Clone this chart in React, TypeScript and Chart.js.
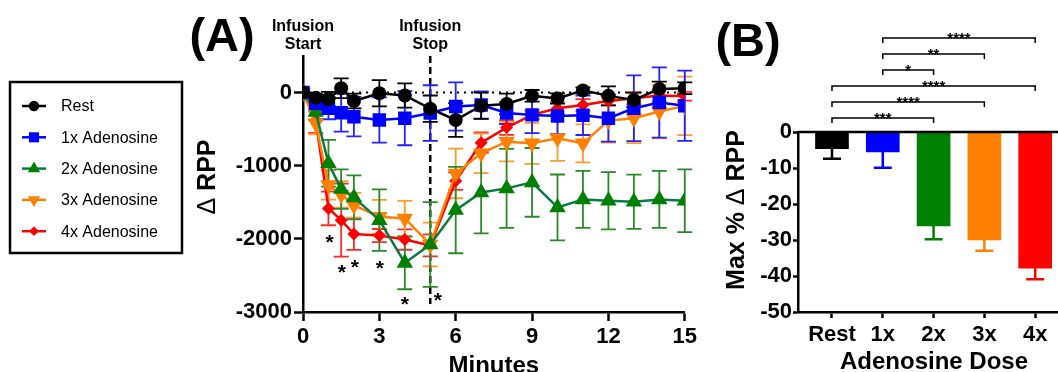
import React, { useEffect, useRef } from 'react';
import { Chart, registerables } from 'chart.js';
Chart.register(...registerables);

const FONT = '"Liberation Sans", Arial, sans-serif';

// ---------- Panel A data ----------
const minutes = [0, 0.5, 1, 1.5, 2, 3, 4, 5, 6, 7, 8, 9, 10, 11, 12, 13, 14, 15];
const restMean = [0, -70, -90, 60, -115, -10, -40, -220, -375, -180, -155, -45, -80, 30, -45, -100, 50, 60];
const restErr = [0, 50, 100, 135, 100, 180, 165, 180, 230, 180, 140, 80, 70, 40, 130, 100, 100, 80];
const ad1Mean = [0, -145, -215, -275, -330, -375, -350, -280, -190, -170, -280, -305, -320, -310, -350, -215, -135, -180];
const ad1Err = [0, 100, 150, 260, 270, 310, 370, 380, 330, 185, 150, 250, 250, 270, 320, 450, 480, 480];
const ad2Mean = [0, -265, -967, -1320, -1433, -1744, -2329, -2077, -1607, -1365, -1310, -1228, -1570, -1461, -1479, -1493, -1461, -1479];
const ad2Err = [0, 110, 320, 270, 300, 420, 360, 580, 590, 560, 540, 470, 450, 390, 390, 370, 390, 430];
const ad3Mean = [0, -420, -1264, -1392, -1540, -1698, -1721, -2077, -1105, -831, -671, -694, -625, -694, -383, -352, -260, -182];
const ad3Err = [0, 150, 200, 180, 170, 230, 240, 300, 340, 270, 270, 280, 310, 260, 300, 340, 365, 400];
const ad4Mean = [0, -380, -1584, -1744, -1935, -1955, -2009, -2090, -1210, -685, -479, -305, -214, -169, -114, -77, -40, -50];
const ad4Err = [0, 170, 230, 500, 215, 90, 140, 150, 120, 140, 100, 60, 80, 80, 60, 80, 80, 60];
const seriesLabels = ['Rest', '1x Adenosine', '2x Adenosine', '3x Adenosine', '4x Adenosine'];
const xTicksA = [0, 3, 6, 9, 12, 15];
const yTicksA = [-3000, -2000, -1000, 0];
const infusionStartMin = 0;
const infusionStopMin = 5;
const starX = [1.04, 1.53, 2.04, 3.02, 4.0, 5.3];
const starY = [-1977, -2384, -2315, -2329, -2816, -2771];

// ---------- Panel B data ----------
const doseLabels = ['Rest', '1x', '2x', '3x', '4x'];
const maxPct = [-4.6, -5.5, -26.1, -30, -37.8];
const maxPctErr = [2.8, 4.4, 3.7, 3.0, 3.1];
const yTicksB = [-50, -40, -30, -20, -10, 0];
const sigFrom = [0, 0, 0, 1, 1, 1];
const sigTo = [2, 3, 4, 2, 3, 4];
const sigText = ['***', '****', '****', '*', '**', '****'];

const styles = [
  { color: '#000000', line: '#000000', err: '#000000', shape: 'circle', r: 7, rot: 0 },
  { color: '#0000FF', line: '#0000FF', err: '#2323ff', shape: 'rect', r: 9.5, rot: 0 },
  { color: '#008000', line: '#0a7a45', err: '#2a8a2a', shape: 'triangle', r: 9.5, rot: 0 },
  { color: '#FF8000', line: '#FF8000', err: '#ff9a33', shape: 'triangle', r: 9.5, rot: 180 },
  { color: '#FF0000', line: '#FF0000', err: '#ff2a2a', shape: 'rectRot', r: 6.5, rot: 0 },
];
const meansA = [restMean, ad1Mean, ad2Mean, ad3Mean, ad4Mean];
const errsA = [restErr, ad1Err, ad2Err, ad3Err, ad4Err];
const barColors = ['#000000', '#0000FF', '#008000', '#FF8000', '#FF0000'];

function drawMarker(ctx: CanvasRenderingContext2D, shape: string, x: number, y: number, r: number, rot: number, color: string) {
  ctx.save();
  ctx.fillStyle = color;
  ctx.translate(x, y);
  ctx.rotate((rot * Math.PI) / 180);
  ctx.beginPath();
  if (shape === 'circle') {
    ctx.arc(0, 0, r, 0, Math.PI * 2);
  } else if (shape === 'rect') {
    const s = r * Math.SQRT1_2;
    ctx.rect(-s, -s, 2 * s, 2 * s);
  } else if (shape === 'triangle') {
    ctx.moveTo(0, -r);
    ctx.lineTo(r * 0.866, r * 0.5);
    ctx.lineTo(-r * 0.866, r * 0.5);
    ctx.closePath();
  } else if (shape === 'rectRot') {
    ctx.moveTo(0, -r);
    ctx.lineTo(r, 0);
    ctx.lineTo(0, r);
    ctx.lineTo(-r, 0);
    ctx.closePath();
  }
  ctx.fill();
  ctx.restore();
}

// Rotated y-axis title with a regular-weight delta sign among bold words
function drawYTitle(ctx: CanvasRenderingContext2D, parts: string[], cx: number, cy: number, size: number) {
  ctx.save();
  ctx.translate(cx, cy);
  ctx.rotate(-Math.PI / 2);
  ctx.textBaseline = 'middle';
  ctx.textAlign = 'left';
  const fonts = parts.map((p) => (p === '\u0394' ? `${size}px ${FONT}` : `bold ${size}px ${FONT}`));
  const widths = parts.map((p, i) => { ctx.font = fonts[i]; return ctx.measureText(p).width; });
  const total = widths.reduce((a, b) => a + b, 0);
  let x = -total / 2;
  parts.forEach((p, i) => {
    ctx.font = fonts[i];
    ctx.fillText(p, x, 0);
    x += widths[i];
  });
  ctx.restore();
}

const panelAPlugin = {
  id: 'panelA',
  beforeDatasetsDraw(chart: any) {
    const { ctx, chartArea, scales } = chart;
    const xs = scales.x;
    const ys = scales.y;
    ctx.save();
    ctx.strokeStyle = '#000';
    ctx.lineWidth = 2;
    ctx.setLineDash([2, 5]);
    ctx.beginPath();
    ctx.moveTo(chartArea.left, ys.getPixelForValue(0));
    ctx.lineTo(chartArea.right, ys.getPixelForValue(0));
    ctx.stroke();
    ctx.setLineDash([7, 4]);
    ctx.lineWidth = 2.5;
    ctx.beginPath();
    const sx = xs.getPixelForValue(infusionStopMin);
    ctx.moveTo(sx, chartArea.top);
    ctx.lineTo(sx, chartArea.bottom - 8);
    ctx.stroke();
    ctx.setLineDash([]);
    for (let s = meansA.length - 1; s >= 0; s--) {
      ctx.strokeStyle = styles[s].err;
      ctx.lineWidth = 1.8;
      minutes.forEach((m, i) => {
        const e = errsA[s][i];
        if (!e) return;
        const px = xs.getPixelForValue(m);
        const top = ys.getPixelForValue(meansA[s][i] + e);
        const bot = ys.getPixelForValue(meansA[s][i] - e);
        ctx.beginPath();
        ctx.moveTo(px, top);
        ctx.lineTo(px, bot);
        ctx.moveTo(px - 7.5, top);
        ctx.lineTo(px + 7.5, top);
        ctx.moveTo(px - 7.5, bot);
        ctx.lineTo(px + 7.5, bot);
        ctx.stroke();
      });
    }
    ctx.restore();
  },
  afterDraw(chart: any) {
    const { ctx, chartArea, scales } = chart;
    const xs = scales.x;
    const ys = scales.y;
    ctx.save();
    ctx.fillStyle = '#000';
    ctx.font = `bold 47px ${FONT}`;
    ctx.textAlign = 'center';
    ctx.textBaseline = 'alphabetic';
    ctx.fillText('(A)', 222, 51);
    ctx.font = `bold 16px ${FONT}`;
    ctx.textBaseline = 'middle';
    const x0 = xs.getPixelForValue(infusionStartMin);
    const x5 = xs.getPixelForValue(infusionStopMin);
    ctx.fillText('Infusion', x0, 27);
    ctx.fillText('Start', x0, 45);
    ctx.fillText('Infusion', x5, 27);
    ctx.fillText('Stop', x5, 45);
    ctx.font = `bold 21px ${FONT}`;
    ctx.textBaseline = 'alphabetic';
    starX.forEach((sx, i) => {
      ctx.fillText('*', xs.getPixelForValue(sx), ys.getPixelForValue(starY[i]) + 12);
    });
    ctx.font = `bold 24px ${FONT}`;
    ctx.textBaseline = 'middle';
    ctx.fillText('Minutes', (chartArea.left + chartArea.right) / 2, 366);
    drawYTitle(ctx, ['\u0394', ' RPP'], 208, 177, 25);
    ctx.strokeStyle = '#000';
    ctx.lineWidth = 2.5;
    ctx.strokeRect(10, 82, 172, 171);
    ctx.font = `16px ${FONT}`;
    ctx.textAlign = 'left';
    ctx.textBaseline = 'middle';
    seriesLabels.forEach((lab, i) => {
      const y = 106 + i * 31.3;
      ctx.strokeStyle = styles[i].line;
      ctx.lineWidth = 2.5;
      ctx.beginPath();
      ctx.moveTo(22, y);
      ctx.lineTo(46, y);
      ctx.stroke();
      drawMarker(ctx, styles[i].shape, 34, y, styles[i].r * 0.75, styles[i].rot, styles[i].color);
      ctx.fillStyle = '#000';
      ctx.fillText(lab, 61, y + 1);
    });
    ctx.restore();
  },
};

const panelBPlugin = {
  id: 'panelB',
  afterDatasetsDraw(chart: any) {
    const { ctx, chartArea, scales } = chart;
    const xs = scales.x;
    const ys = scales.y;
    ctx.save();
    ctx.strokeStyle = '#000';
    ctx.lineWidth = 2.5;
    ctx.beginPath();
    ctx.moveTo(chartArea.left, ys.getPixelForValue(0));
    ctx.lineTo(chartArea.right, ys.getPixelForValue(0));
    ctx.stroke();
    maxPct.forEach((v, i) => {
      const px = xs.getPixelForValue(i);
      const top = ys.getPixelForValue(v);
      const bot = ys.getPixelForValue(v - maxPctErr[i]);
      ctx.strokeStyle = barColors[i];
      ctx.lineWidth = 2.5;
      ctx.beginPath();
      ctx.moveTo(px, top);
      ctx.lineTo(px, bot);
      ctx.moveTo(px - 9, bot);
      ctx.lineTo(px + 9, bot);
      ctx.stroke();
    });
    ctx.restore();
  },
  afterDraw(chart: any) {
    const { ctx, chartArea, scales } = chart;
    const xs = scales.x;
    ctx.save();
    ctx.fillStyle = '#000';
    ctx.font = `bold 47px ${FONT}`;
    ctx.textAlign = 'center';
    ctx.textBaseline = 'alphabetic';
    ctx.fillText('(B)', 48, 56);
    ctx.strokeStyle = '#000';
    ctx.lineWidth = 1.5;
    ctx.font = `bold 15px ${FONT}`;
    sigFrom.forEach((a, k) => {
      const y = chartArea.top - 14 - k * 16;
      const xa = xs.getPixelForValue(a);
      const xb = xs.getPixelForValue(sigTo[k]);
      ctx.beginPath();
      ctx.moveTo(xa, y + 5);
      ctx.lineTo(xa, y);
      ctx.lineTo(xb, y);
      ctx.lineTo(xb, y + 5);
      ctx.stroke();
      ctx.fillText(sigText[k], (xa + xb) / 2, y + 5);
    });
    ctx.font = `bold 24px ${FONT}`;
    ctx.textBaseline = 'middle';
    ctx.fillText('Adenosine Dose', 234, 362);
    drawYTitle(ctx, ['Max % ', '\u0394', ' RPP'], 37, 210, 25);
    ctx.restore();
  },
};

export default function App() {
  const refA = useRef<HTMLCanvasElement>(null);
  const refB = useRef<HTMLCanvasElement>(null);

  useEffect(() => {
    const tickFont = { family: FONT, size: 22, weight: 'bold' as const };
    const plain = (v: any) => String(v);
    const chartA = new Chart(refA.current as HTMLCanvasElement, {
      type: 'line',
      data: {
        datasets: meansA.map((mean, s) => ({
          label: seriesLabels[s],
          data: minutes.map((m, i) => ({ x: m, y: mean[i] })),
          borderColor: styles[s].line,
          borderWidth: 2.5,
          pointStyle: styles[s].shape as any,
          pointRadius: styles[s].r,
          pointRotation: styles[s].rot,
          pointBackgroundColor: styles[s].color,
          pointBorderColor: styles[s].color,
          pointBorderWidth: 0,
          tension: 0,
          fill: false,
        })),
      },
      options: {
        animation: false,
        responsive: false,
        devicePixelRatio: 1,
        layout: { padding: { left: 0, top: 56, right: 13, bottom: 0 } },
        plugins: { legend: { display: false }, tooltip: { enabled: false } },
        scales: {
          x: {
            type: 'linear',
            min: 0,
            max: 15,
            border: { display: true, color: '#000', width: 2.5 },
            grid: { drawOnChartArea: false, drawTicks: true, tickLength: 9, tickColor: '#000', tickWidth: 2.5 },
            ticks: { font: tickFont, color: '#000', padding: 3, maxRotation: 0, callback: plain },
            afterBuildTicks: (s: any) => { s.ticks = xTicksA.map((v) => ({ value: v })); },
            afterFit: (s: any) => { s.height = 60; },
          },
          y: {
            type: 'linear',
            min: -3000,
            max: 500,
            border: { display: true, color: '#000', width: 2.5 },
            grid: { drawOnChartArea: false, drawTicks: true, tickLength: 9, tickColor: '#000', tickWidth: 2.5 },
            ticks: { font: tickFont, color: '#000', padding: 2, callback: plain },
            afterBuildTicks: (s: any) => { s.ticks = yTicksA.map((v) => ({ value: v })); },
            afterFit: (s: any) => { s.width = 303; },
          },
        },
      },
      plugins: [panelAPlugin],
    });

    const chartB = new Chart(refB.current as HTMLCanvasElement, {
      type: 'bar',
      data: {
        datasets: [{
          label: 'Max % change',
          data: maxPct.map((v, i) => ({ x: i, y: v })),
          backgroundColor: barColors,
          borderWidth: 0,
          barThickness: 33,
        }],
      },
      options: {
        animation: false,
        responsive: false,
        devicePixelRatio: 1,
        layout: { padding: { left: 0, top: 132, right: 0, bottom: 0 } },
        plugins: { legend: { display: false }, tooltip: { enabled: false } },
        scales: {
          x: {
            type: 'linear',
            min: -0.669,
            max: 4.449,
            offset: false,
            border: { display: true, color: '#000', width: 2.5 },
            grid: { drawOnChartArea: false, drawTicks: true, tickLength: 6, tickColor: '#000', tickWidth: 2.5, offset: false },
            ticks: {
              font: tickFont, color: '#000', padding: 4, maxRotation: 0,
              callback: (v: any) => doseLabels[Number(v)] ?? '',
            },
            afterBuildTicks: (s: any) => { s.ticks = doseLabels.map((_, i) => ({ value: i })); },
            afterFit: (s: any) => { s.height = 60; },
          },
          y: {
            type: 'linear',
            min: -50,
            max: 0,
            border: { display: true, color: '#000', width: 2.5 },
            grid: { drawOnChartArea: false, drawTicks: true, tickLength: 5, tickColor: '#000', tickWidth: 2.5 },
            ticks: { font: tickFont, color: '#000', padding: 1, callback: plain },
            afterBuildTicks: (s: any) => { s.ticks = yTicksB.map((v) => ({ value: v })); },
            afterFit: (s: any) => { s.width = 98; },
          },
        },
      },
      plugins: [panelBPlugin],
    });

    return () => {
      chartA.destroy();
      chartB.destroy();
    };
  }, []);

  return (
    <div style={{ position: 'fixed', left: 0, top: 0, width: 1058, height: 372, background: '#fff', overflow: 'hidden' }}>
      <canvas ref={refA} width={700} height={372} style={{ position: 'absolute', left: 0, top: 0, width: 700, height: 372 }} />
      <canvas ref={refB} width={358} height={372} style={{ position: 'absolute', left: 700, top: 0, width: 358, height: 372 }} />
    </div>
  );
}
